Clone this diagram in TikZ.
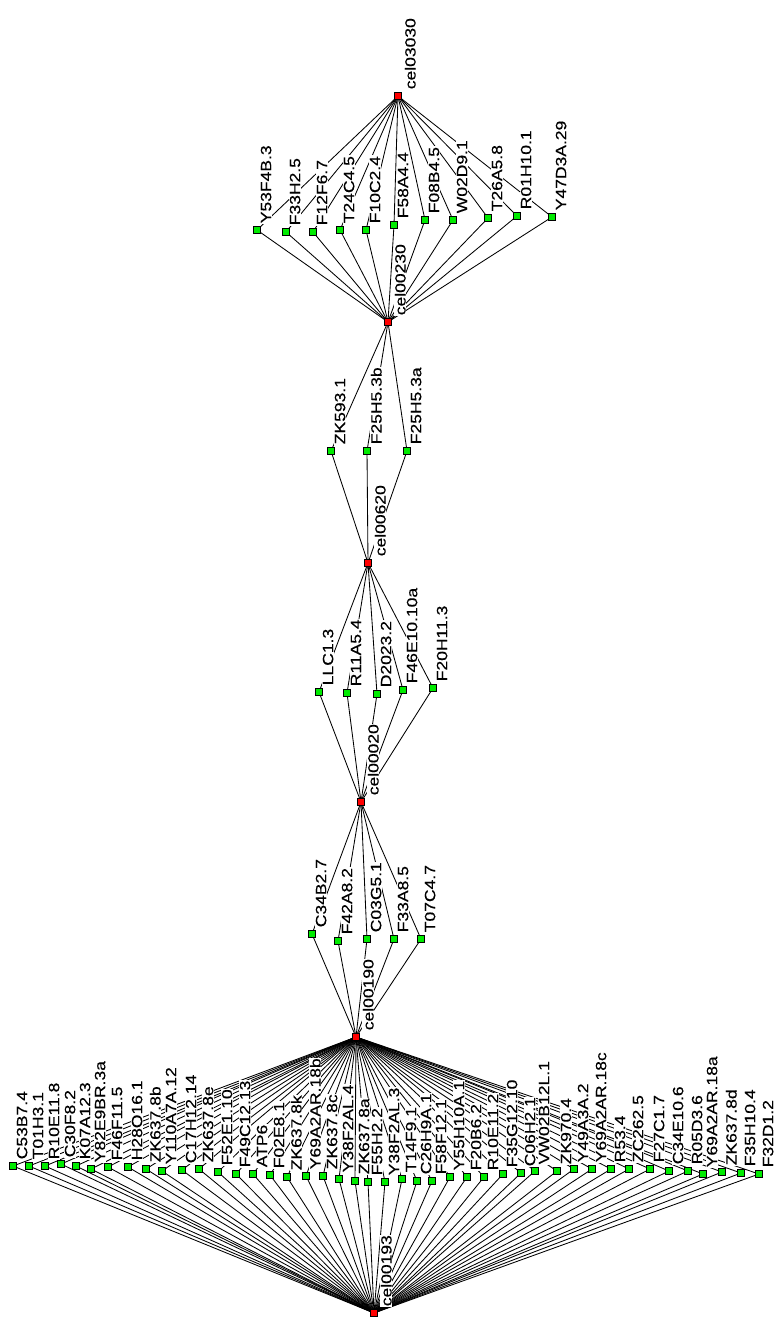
\documentclass[tikz,border=0pt]{standalone}
\usepackage{fontspec}
\usepackage{graphicx}
\setmainfont{Liberation Sans}
\newfontfamily\lblfont{Liberation Sans}[FakeBold=0.3]
\definecolor{genegreen}{RGB}{0,235,0}
\definecolor{hubred}{RGB}{255,0,0}
\pgfdeclarelayer{edges}
\pgfdeclarelayer{labels}
\pgfsetlayers{edges,labels,main}
\newcommand\vtxt[1]{\scalebox{1}[0.85]{#1}}
\tikzset{
  hub/.style={rectangle, draw=black, fill=hubred, line width=0.8pt, minimum size=6.5pt, inner sep=0pt},
  gene/.style={rectangle, draw=black, fill=genegreen, line width=0.8pt, minimum size=6.5pt, inner sep=0pt},
  lbl/.style={rotate=90, anchor=north west, fill=white, inner sep=0.6pt,
              font=\lblfont\fontsize{17.5}{19}\selectfont},
  link/.style={draw=black, line width=0.85pt}
}
\begin{document}
\begin{tikzpicture}[x=1pt,y=-1pt]
\begin{pgfonlayer}{edges}
  \fill[white] (0,0) rectangle (779,1327);
\end{pgfonlayer}
\useasboundingbox (0,0) rectangle (779,1327);

% pathway hubs
\foreach \n/\x/\y/\t in {
  h1/398/96/cel03030, h2/388/322/cel00230, h3/368/563/cel00620,
  h4/361/802/cel00020, h5/356/1037/cel00190, h6/374/1313/cel00193}{
  \node[hub] (\n) at (\x,\y) {};
  \begin{pgfonlayer}{labels}
    \node[lbl] at (\x+6,\y-6) {\vtxt{\t}};
  \end{pgfonlayer}
}

% genes, each linked to the two pathways around it
\foreach \n/\x/\y/\t/\a/\b in {
  a1/257/230/Y53F4B.3/h1/h2, a2/286/232/F33H2.5/h1/h2, a3/313/232/F12F6.7/h1/h2,
  a4/340/230/T24C4.5/h1/h2, a5/366/230/F10C2.4/h1/h2, a6/394/225/F58A4.4/h1/h2,
  a7/425/220/F08B4.5/h1/h2, a8/453/220/W02D9.1/h1/h2, a9/488/218/T26A5.8/h1/h2,
  a10/517/216/R01H10.1/h1/h2, a11/552/217/Y47D3A.29/h1/h2,
  b1/331/451/ZK593.1/h2/h3, b2/367/451/F25H5.3b/h2/h3, b3/407/451/F25H5.3a/h2/h3,
  c1/319/692/LLC1.3/h3/h4, c2/347/693/R11A5.4/h3/h4, c3/377/694/D2023.2/h3/h4,
  c4/403/690/F46E10.10a/h3/h4, c5/433/688/F20H11.3/h3/h4,
  d1/312/934/C34B2.7/h4/h5, d2/338/941/F42A8.2/h4/h5, d3/367/939/C03G5.1/h4/h5,
  d4/394/939/F33A8.5/h4/h5, d5/421/939/T07C4.7/h4/h5,
  e1/13/1166/C53B7.4/h5/h6, e2/29/1166/T01H3.1/h5/h6, e3/45/1166/R10E11.8/h5/h6,
  e4/61/1164/C30F8.2/h5/h6, e5/76/1166/K07A12.3/h5/h6, e6/91/1169/Y82E9BR.3a/h5/h6,
  e7/108/1167/F46F11.5/h5/h6, e8/128/1167/H28O16.1/h5/h6, e9/146/1169/ZK637.8b/h5/h6,
  e10/162/1171/Y110A7A.12/h5/h6, e11/182/1170/C17H12.14/h5/h6, e12/199/1169/ZK637.8e/h5/h6,
  e13/218/1172/F52E1.10/h5/h6, e14/236/1174/F49C12.13/h5/h6, e15/253/1174/ATP6/h5/h6,
  e16/270/1175/F02E8.1/h5/h6, e17/287/1177/ZK637.8k/h5/h6, e18/306/1176/Y69A2AR.18b/h5/h6,
  e19/323/1176/ZK637.8c/h5/h6, e20/339/1179/Y38F2AL.4/h5/h6, e21/355/1181/ZK637.8a/h5/h6,
  e22/368/1182/F55H2.2/h5/h6, e23/385/1182/Y38F2AL.3/h5/h6, e24/402/1179/T14F9.1/h5/h6,
  e25/417/1181/C26H9A.1/h5/h6, e26/432/1181/F58F12.1/h5/h6, e27/450/1177/Y55H10A.1/h5/h6,
  e28/467/1177/F20B6.2/h5/h6, e29/484/1177/R10E11.2/h5/h6, e30/503/1174/F35G12.10/h5/h6,
  e31/521/1173/C06H2.1/h5/h6, e32/535/1171/VW02B12L.1/h5/h6, e33/557/1171/ZK970.4/h5/h6,
  e34/574/1169/Y49A3A.2/h5/h6, e35/592/1169/Y69A2AR.18c/h5/h6, e36/611/1169/R53.4/h5/h6,
  e37/629/1169/ZC262.5/h5/h6, e38/650/1169/F27C1.7/h5/h6, e39/669/1171/C34E10.6/h5/h6,
  e40/688/1171/R05D3.6/h5/h6, e41/703/1174/Y69A2AR.18a/h5/h6, e42/722/1172/ZK637.8d/h5/h6,
  e43/741/1173/F35H10.4/h5/h6, e44/759/1174/F32D1.2/h5/h6}{
  \node[gene] (\n) at (\x,\y) {};
  \begin{pgfonlayer}{labels}
    \node[lbl] at (\x+3,\y-6) {\vtxt{\t}};
  \end{pgfonlayer}
  \begin{pgfonlayer}{edges}
    \draw[link] (\n.center) -- (\a.center) (\n.center) -- (\b.center);
  \end{pgfonlayer}
}
\end{tikzpicture}
\end{document}
